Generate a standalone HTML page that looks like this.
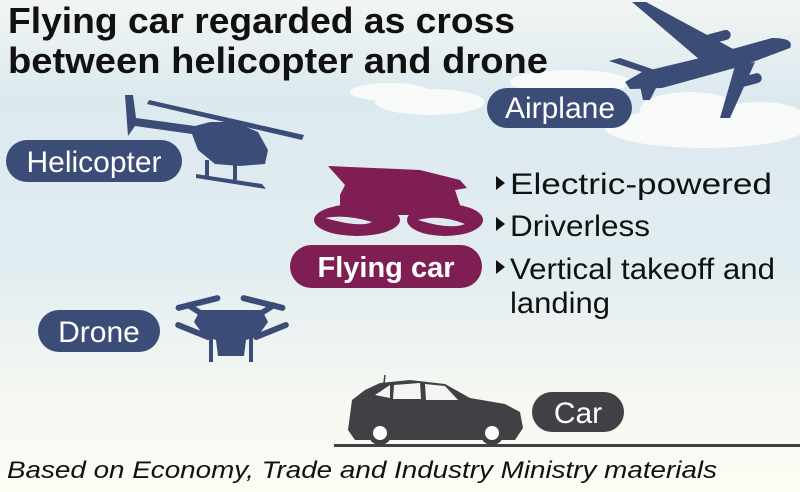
<!DOCTYPE html>
<html><head><meta charset="utf-8"><style>
html,body{margin:0;padding:0;width:800px;height:492px;overflow:hidden}
svg{display:block}
text{font-family:"Liberation Sans",sans-serif}
</style></head><body>
<svg width="800" height="492" viewBox="0 0 800 492" xmlns="http://www.w3.org/2000/svg">
<defs>
<linearGradient id="bg" x1="0" y1="0" x2="0" y2="1">
<stop offset="0" stop-color="#f2f5f3"/>
<stop offset="0.2" stop-color="#dce9ef"/>
<stop offset="0.55" stop-color="#e2edf1"/>
<stop offset="0.8" stop-color="#f5f7f1"/>
<stop offset="1" stop-color="#fdfcf5"/>
</linearGradient>
</defs>
<rect width="800" height="492" fill="url(#bg)"/>
<!-- clouds -->
<g fill="#f8fafa">
<ellipse cx="705" cy="128" rx="100" ry="20"/>
<ellipse cx="690" cy="110" rx="50" ry="18"/>
<ellipse cx="760" cy="118" rx="45" ry="16"/>
<ellipse cx="430" cy="102" rx="55" ry="13"/>
<ellipse cx="570" cy="82" rx="60" ry="12"/>
<ellipse cx="390" cy="92" rx="40" ry="9"/>
</g>
<!-- title -->
<text x="8" y="33" font-size="36" font-weight="bold" fill="#111" textLength="507" lengthAdjust="spacingAndGlyphs">Flying car regarded as cross</text>
<text x="8" y="73" font-size="36" font-weight="bold" fill="#111" textLength="540" lengthAdjust="spacingAndGlyphs">between helicopter and drone</text>
<!-- airplane -->
<g fill="#3b4d77">
<path d="M625 82 L642 72 L700 58 L772 38 Q795 38 790 48 L742 66 L662 88 L630 89Z"/>
<path d="M700 60 L632 2 L646 2 L735 50 Z"/>
<rect x="705" y="32" width="26" height="10" rx="5" transform="rotate(-15 718 37)"/>
<path d="M735 66 L720 118 L730 118 L755 62Z"/>
<rect x="738" y="75" width="24" height="10" rx="5" transform="rotate(-15 750 80)"/>
<path d="M645 73 L609 61 L620 58 L655 70Z"/>
<path d="M640 86 L643 100 L650 100 L658 84Z"/>
</g>
<rect x="487" y="88" width="145" height="40" rx="20" fill="#3b4d77"/>
<text x="560" y="118" font-size="30" fill="#fff" text-anchor="middle">Airplane</text>
<!-- helicopter -->
<g fill="#3b4d77">
<path d="M125 95 L133 95 L136 118 L195 126 L210 122 L235 122 L258 132 L268 150 L265 164 L240 166 L215 164 L198 150 L192 134 L135 126 L128 136Z"/>
<path d="M149 100 L304 135 L302 140 L147 104Z"/>
<path d="M196 174 L262 184 L266 189 L196 178Z"/>
<rect x="205" y="160" width="4" height="16"/><rect x="233" y="162" width="4" height="18"/>
</g>
<rect x="6" y="140" width="176" height="42" rx="21" fill="#3b4d77"/>
<text x="94" y="172" font-size="30" fill="#fff" text-anchor="middle">Helicopter</text>
<!-- drone -->
<g fill="#3b4d77">
<path d="M200 310 L262 310 L268 322 L258 336 L246 340 L244 356 L218 356 L216 340 L204 336 L194 322Z"/>
<rect x="175" y="300" width="46" height="6" rx="3" transform="rotate(-14 198 303)"/>
<rect x="240" y="300" width="46" height="6" rx="3" transform="rotate(14 263 303)"/>
<rect x="174" y="328" width="38" height="6" rx="3" transform="rotate(22 193 331)"/>
<rect x="252" y="328" width="38" height="6" rx="3" transform="rotate(-22 271 331)"/>
<path d="M200 316 L184 306 L188 302 L206 313Z M262 316 L278 306 L274 302 L256 313Z"/>
<rect x="209" y="336" width="4" height="26"/><rect x="249" y="336" width="4" height="26"/>
</g>
<rect x="38" y="310" width="122" height="42" rx="21" fill="#3b4d77"/>
<text x="99" y="342" font-size="30" fill="#fff" text-anchor="middle">Drone</text>
<!-- flying car -->
<g fill="#7f1e52">
<path d="M328 166 L420 170 L460 180 L467 188 L455 190 L460 205 L470 215 L360 215 L340 212 L340 195 L345 185 Z"/>
<ellipse cx="357" cy="220" rx="43" ry="16"/>
<ellipse cx="445" cy="220" rx="38" ry="16"/>
</g>
<g fill="#dfeaf0">
<path d="M325 218 Q360 228 372 222 Q345 214 325 218Z"/>
<path d="M418 220 Q450 230 465 224 Q440 214 418 220Z"/>
</g>
<rect x="290" y="245" width="192" height="43" rx="21.5" fill="#7f1e52"/>
<text x="386" y="277" font-size="29" font-weight="bold" fill="#fff" text-anchor="middle">Flying car</text>
<!-- bullets -->
<g fill="#111">
<path d="M496 176 L505 183 L496 190Z"/>
<path d="M496 217 L505 224 L496 231Z"/>
<path d="M496 260 L505 267 L496 274Z"/>
</g>
<g font-size="30" fill="#111">
<text x="510" y="194" textLength="262" lengthAdjust="spacingAndGlyphs">Electric-powered</text>
<text x="510" y="236" textLength="140" lengthAdjust="spacingAndGlyphs">Driverless</text>
<text x="510" y="279" textLength="265" lengthAdjust="spacingAndGlyphs">Vertical takeoff and</text>
<text x="510" y="313" textLength="100" lengthAdjust="spacingAndGlyphs">landing</text>
</g>
<!-- car -->
<g fill="#404145">
<path d="M352 400 L365 390 L380 383 L410 380 L445 384 L470 398 L505 404 L520 412 L523 428 L515 440 L355 440 L348 430 Z"/>
<line x1="384" y1="383" x2="385" y2="375" stroke="#404145" stroke-width="1.5"/>
</g>
<g fill="#f3f5f2">
<path d="M375 395 L390 385 L390 398Z"/>
<path d="M394 385 L420 383 L421 399 L393 399Z"/>
<path d="M425 384 L445 386 L458 400 L426 400Z"/>
</g>
<circle cx="380" cy="433" r="12" fill="#404145"/><circle cx="380" cy="433" r="7" fill="#fff"/>
<circle cx="492" cy="433" r="12" fill="#404145"/><circle cx="492" cy="433" r="7" fill="#fff"/>
<rect x="334" y="444" width="466" height="3" fill="#404145"/>
<rect x="532" y="392" width="92" height="40" rx="20" fill="#404145"/>
<text x="578" y="423" font-size="30" fill="#fff" text-anchor="middle">Car</text>
<!-- footer -->
<text x="7" y="478" font-size="24" font-style="italic" fill="#111" textLength="710" lengthAdjust="spacingAndGlyphs">Based on Economy, Trade and Industry Ministry materials</text>
</svg>
</body></html>
